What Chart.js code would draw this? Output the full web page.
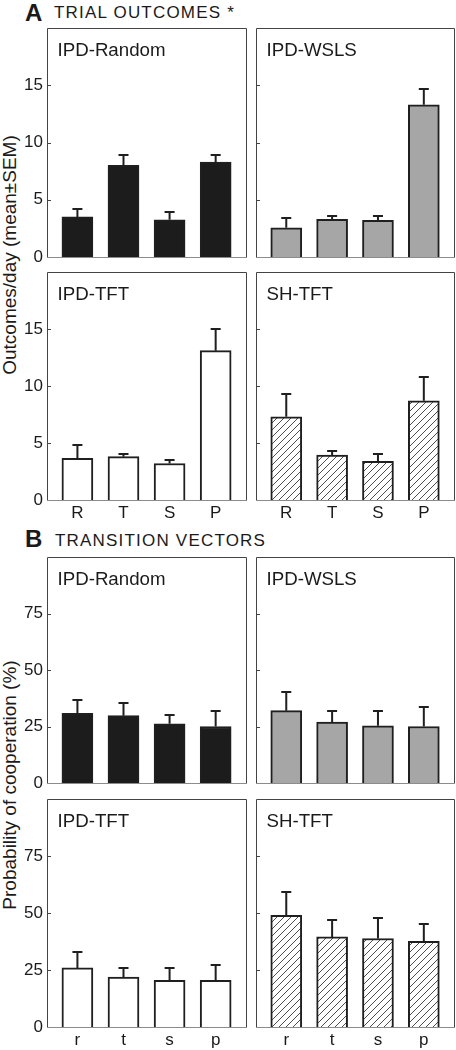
<!DOCTYPE html>
<html>
<head>
<meta charset="utf-8">
<script src="https://cdn.jsdelivr.net/npm/chart.js@4.4.1/dist/chart.umd.min.js"></script>
<style>
  body { margin: 0; background: #fff; width: 456px; height: 1050px; position: relative; overflow: hidden;
         font-family: "Liberation Sans", Arial, sans-serif; color: #1a1a1a; }
  canvas { position: absolute; }
  .t { position: absolute; line-height: 1; white-space: nowrap; }
  .head { font-size: 24px; font-weight: bold; }
  .sub { font-size: 17px; letter-spacing: 1.2px; }
  .ytitle { font-size: 19px; transform: translate(-50%, -50%) rotate(-90deg); }
  .ptitle { font-size: 18.7px; }
</style>
</head>
<body>
<div class="t head" style="left:25px;top:0.7px">A</div>
<div class="t sub" style="left:54px;top:3.9px">TRIAL OUTCOMES *</div>
<div class="t head" style="left:25px;top:527px">B</div>
<div class="t sub" style="left:55px;top:531.6px">TRANSITION VECTORS</div>
<div class="t ytitle" style="left:9px;top:255px">Outcomes/day (mean±SEM)</div>
<div class="t ytitle" style="left:9px;top:785px">Probability of cooperation (%)</div>

<script>
// categories
const outcomeCats = ['R', 'T', 'S', 'P'];
const transitionCats = ['r', 't', 's', 'p'];
// y tick labels
const outcomeTicks = [0, 5, 10, 15];
const transitionTicks = [0, 25, 50, 75];

// A: trial outcomes per day (mean, SEM)
const randomOutcomes = [3.5, 8.0, 3.25, 8.3];
const randomOutcomesSem = [0.8, 1.0, 0.75, 0.7];
const wslsOutcomes = [2.55, 3.3, 3.2, 13.3];
const wslsOutcomesSem = [0.9, 0.4, 0.45, 1.5];
const tftOutcomes = [3.65, 3.8, 3.2, 13.1];
const tftOutcomesSem = [1.25, 0.3, 0.4, 2.0];
const shOutcomes = [7.3, 3.95, 3.4, 8.7];
const shOutcomesSem = [2.1, 0.4, 0.7, 2.2];

// B: probability of cooperation (%) after each outcome
const randomTransitions = [30.8, 29.8, 26.2, 25.0];
const randomTransitionsSem = [6.5, 6.0, 4.2, 7.3];
const wslsTransitions = [32.0, 27.0, 25.3, 25.0];
const wslsTransitionsSem = [8.5, 5.5, 7.2, 9.2];
const tftTransitions = [25.9, 21.9, 20.5, 20.5];
const tftTransitionsSem = [7.3, 4.3, 5.7, 7.1];
const shTransitions = [49.0, 39.5, 38.8, 37.6];
const shTransitionsSem = [10.6, 7.9, 9.3, 7.8];

const FONT = '"Liberation Sans", Arial, sans-serif';
const INK = '#1f1f1f';
const colsX = [[47, 247], [256, 455]];
const MARGIN = 16;

function hatch(ctx) {
  const c = document.createElement('canvas');
  c.width = c.height = 7;
  const g = c.getContext('2d');
  g.fillStyle = '#fff';
  g.fillRect(0, 0, 7, 7);
  g.strokeStyle = '#3a3a3a';
  g.lineWidth = 0.9;
  g.beginPath();
  g.moveTo(0, 7); g.lineTo(7, 0);
  g.moveTo(-1, 1); g.lineTo(1, -1);
  g.moveTo(6, 8); g.lineTo(8, 6);
  g.stroke();
  return ctx.createPattern(c, 'repeat');
}

function decorations(sem, ticks) {
  return {
    id: 'deco',
    afterDatasetsDraw(chart) {
      const ctx = chart.ctx, a = chart.chartArea, ys = chart.scales.y;
      const bars = chart.getDatasetMeta(0).data;
      const vals = chart.data.datasets[0].data;
      ctx.save();
      // error bars (upper only)
      ctx.strokeStyle = INK;
      ctx.lineWidth = 2;
      bars.forEach((b, i) => {
        const yTop = Math.round(ys.getPixelForValue(vals[i].y + sem[i]));
        ctx.beginPath();
        ctx.moveTo(b.x, b.y);
        ctx.lineTo(b.x, yTop);
        ctx.moveTo(b.x - 5, yTop + 1);
        ctx.lineTo(b.x + 5, yTop + 1);
        ctx.stroke();
      });
      // frame
      ctx.lineWidth = 1;
      ctx.strokeStyle = '#444';
      ctx.beginPath();
      ctx.moveTo(a.left + 0.5, a.bottom);
      ctx.lineTo(a.left + 0.5, a.top + 0.5);
      ctx.lineTo(a.right - 0.5, a.top + 0.5);
      ctx.lineTo(a.right - 0.5, a.bottom);
      ctx.stroke();
      ctx.strokeStyle = '#8c8c8c';
      ctx.beginPath();
      ctx.moveTo(a.left, a.bottom + 0.5);
      ctx.lineTo(a.right, a.bottom + 0.5);
      ctx.stroke();
      // inward ticks
      ctx.strokeStyle = '#444';
      ctx.beginPath();
      ticks.slice(1).forEach(v => {
        const y = Math.round(ys.getPixelForValue(v)) + 0.5;
        ctx.moveTo(a.left, y);
        ctx.lineTo(a.left + 4, y);
      });
      ctx.stroke();
      ctx.restore();
    }
  };
}

function makePanel(p) {
  const [x0, x1] = colsX[p.col];
  const [y0, y1] = p.rowY;
  const left = p.col === 0 ? 0 : 250;
  const top = y0 - MARGIN;
  const below = p.cats ? 28 : MARGIN;
  const w = x1 + 10 - left, h = y1 + below - top;
  const cv = document.createElement('canvas');
  cv.width = w; cv.height = h;
  cv.style.left = left + 'px'; cv.style.top = top + 'px';
  cv.style.width = w + 'px'; cv.style.height = h + 'px';
  document.body.appendChild(cv);

  const title = document.createElement('div');
  title.className = 't ptitle';
  title.textContent = p.title;
  title.style.left = (x0 + 10.5) + 'px';
  title.style.top = (y0 + 28.5 - 15.8) + 'px';
  document.body.appendChild(title);

  const ctx = cv.getContext('2d');
  const fill = p.fill === 'hatch' ? hatch(ctx) : p.fill;

  new Chart(ctx, {
    type: 'bar',
    data: {
      datasets: [{
        data: p.values.map((v, i) => ({ x: i, y: v })),
        backgroundColor: fill,
        borderColor: INK,
        borderWidth: 2,
        barThickness: 31
      }]
    },
    options: {
      responsive: false,
      animation: false,
      devicePixelRatio: 1,
      layout: { padding: { top: MARGIN, right: 10, left: 0, bottom: 0 } },
      plugins: { legend: { display: false }, tooltip: { enabled: false } },
      scales: {
        x: {
          type: 'linear',
          offset: false,
          min: -0.66,
          max: 3.68,
          afterBuildTicks: s => { s.ticks = [0, 1, 2, 3].map(v => ({ value: v })); },
          afterFit: s => { s.height = below; },
          grid: { display: false, drawTicks: false, offset: false },
          border: { display: false },
          ticks: {
            display: !!p.cats,
            padding: 3,
            color: '#1a1a1a',
            font: { family: FONT, size: 17 },
            callback: v => p.cats ? p.cats[v] : ''
          }
        },
        y: {
          min: 0,
          max: p.yMax,
          afterBuildTicks: s => { s.ticks = p.ticks.map(v => ({ value: v })); },
          afterFit: s => { s.width = x0 - left; },
          grid: { display: false, drawTicks: false },
          border: { display: false },
          ticks: {
            display: p.col === 0,
            padding: 4,
            color: '#1a1a1a',
            font: { family: FONT, size: 17 }
          }
        }
      }
    },
    plugins: [decorations(p.sem, p.ticks)]
  });
}

const A1 = [28, 257], A2 = [272, 500], B1 = [557, 783], B2 = [799, 1027];

makePanel({ title: 'IPD-Random', col: 0, rowY: A1, yMax: 20, ticks: outcomeTicks, values: randomOutcomes, sem: randomOutcomesSem, fill: '#1c1c1c' });
makePanel({ title: 'IPD-WSLS', col: 1, rowY: A1, yMax: 20, ticks: outcomeTicks, values: wslsOutcomes, sem: wslsOutcomesSem, fill: '#a6a6a6' });
makePanel({ title: 'IPD-TFT', col: 0, rowY: A2, yMax: 20, ticks: outcomeTicks, values: tftOutcomes, sem: tftOutcomesSem, fill: '#ffffff', cats: outcomeCats });
makePanel({ title: 'SH-TFT', col: 1, rowY: A2, yMax: 20, ticks: outcomeTicks, values: shOutcomes, sem: shOutcomesSem, fill: 'hatch', cats: outcomeCats });

makePanel({ title: 'IPD-Random', col: 0, rowY: B1, yMax: 100, ticks: transitionTicks, values: randomTransitions, sem: randomTransitionsSem, fill: '#1c1c1c' });
makePanel({ title: 'IPD-WSLS', col: 1, rowY: B1, yMax: 100, ticks: transitionTicks, values: wslsTransitions, sem: wslsTransitionsSem, fill: '#a6a6a6' });
makePanel({ title: 'IPD-TFT', col: 0, rowY: B2, yMax: 100, ticks: transitionTicks, values: tftTransitions, sem: tftTransitionsSem, fill: '#ffffff', cats: transitionCats });
makePanel({ title: 'SH-TFT', col: 1, rowY: B2, yMax: 100, ticks: transitionTicks, values: shTransitions, sem: shTransitionsSem, fill: 'hatch', cats: transitionCats });
</script>
</body>
</html>
